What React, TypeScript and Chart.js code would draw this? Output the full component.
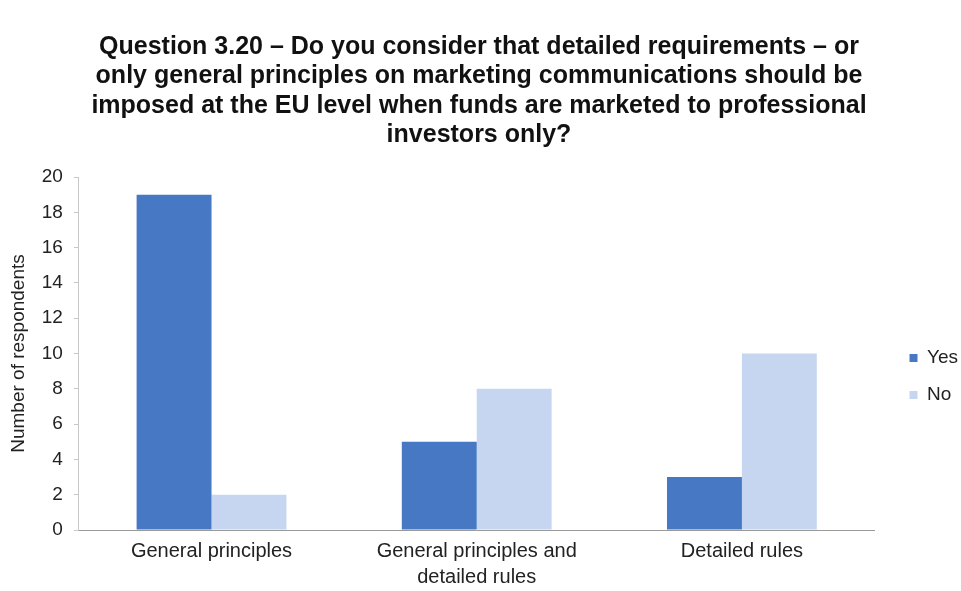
import React, { useEffect, useRef } from "react";
import { Chart, registerables } from "chart.js";

Chart.register(...registerables);

const categories: (string | string[])[] = [
  "General principles",
  ["General principles and", "detailed rules"],
  "Detailed rules",
];
const seriesNames = ["Yes", "No"];
const yesValues = [19, 5, 3];
const noValues = [2, 8, 10];
const titleLines = [
  "Question 3.20 – Do you consider that detailed requirements – or",
  "only general principles on marketing communications should be",
  "imposed at the EU level when funds are marketed to professional",
  "investors only?",
];

const FONT = "'Liberation Sans', Arial, sans-serif";

// Move the built-in right legend to sit just beside the plot, like the original.
const placeLegend = {
  id: "placeLegend",
  afterLayout(chart: any) {
    const lg = chart.legend;
    if (!lg) return;
    const w = lg.right - lg.left;
    const h = lg.bottom - lg.top;
    lg.left = chart.chartArea.right + 17;
    lg.right = lg.left + w;
    lg.top = (chart.chartArea.top + chart.chartArea.bottom) / 2 - 23;
    lg.bottom = lg.top + h;
  },
};

export default function App() {
  const ref = useRef<HTMLCanvasElement | null>(null);
  useEffect(() => {
    if (!ref.current) return;
    const chart = new Chart(ref.current, {
      type: "bar",
      data: {
        labels: categories,
        datasets: [
          {
            label: seriesNames[0],
            data: yesValues,
            backgroundColor: "#4678c4",
            borderWidth: 0,
            categoryPercentage: 0.565,
            barPercentage: 1,
          },
          {
            label: seriesNames[1],
            data: noValues,
            backgroundColor: "#c6d6f1",
            borderWidth: 0,
            categoryPercentage: 0.565,
            barPercentage: 1,
          },
        ],
      },
      plugins: [placeLegend],
      options: {
        responsive: false,
        animation: false,
        layout: { padding: { left: 7, right: 10, top: 0, bottom: 1 } },
        plugins: {
          title: {
            display: true,
            text: titleLines,
            color: "#111",
            font: { family: FONT, size: 25, weight: "bold", lineHeight: 1.18 },
            padding: { top: 32, bottom: 27 },
          },
          legend: {
            position: "right",
            align: "start",
            labels: {
              boxWidth: 8,
              boxHeight: 8,
              color: "#222",
              font: { family: FONT, size: 19 },
              padding: 18,
            },
          },
          tooltip: { enabled: false },
        },
        scales: {
          x: {
            grid: { display: false, tickLength: 8 },
            border: { display: true, color: "#999", width: 1 },
            ticks: {
              color: "#222",
              font: { family: FONT, size: 20, lineHeight: 1.3 },
              maxRotation: 0,
              padding: 0,
            },
          },
          y: {
            min: 0,
            max: 20,
            ticks: {
              stepSize: 2,
              color: "#222",
              font: { family: FONT, size: 19 },
              padding: 11,
            },
            grid: {
              drawOnChartArea: false,
              drawTicks: true,
              tickLength: 5,
              color: "#c8c8c8",
            },
            border: { display: true, color: "#c8c8c8" },
            title: {
              display: true,
              text: "Number of respondents",
              color: "#222",
              font: { family: FONT, size: 19 },
              padding: { top: 0, bottom: 1 },
            },
          },
        },
      },
    });
    return () => chart.destroy();
  }, []);
  return (
    <div style={{ position: "fixed", left: 0, top: 0, width: 961, height: 591, background: "#fff" }}>
      <canvas ref={ref} width={961} height={591} />
    </div>
  );
}
